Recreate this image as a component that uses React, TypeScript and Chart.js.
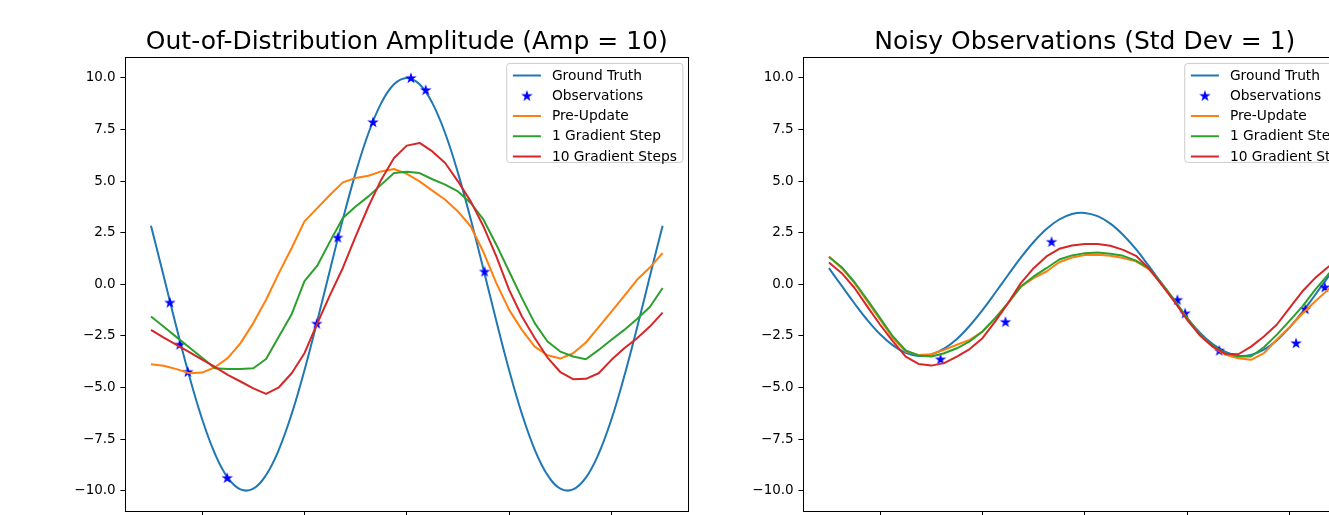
import React, { useEffect, useRef } from 'react';
import { Chart, registerables } from 'chart.js';

Chart.register(...registerables);

// ---------------- data ----------------
const X = [
  -5, -4.75, -4.5, -4.25, -4, -3.75, -3.5, -3.25, -3, -2.75, -2.5, -2.25, -2, -1.75, -1.5, -1.25, -1, -0.75, -0.5, -0.25,
  0, 0.25, 0.5, 0.75, 1, 1.25, 1.5, 1.75, 2, 2.25, 2.5, 2.75, 3, 3.25, 3.5, 3.75, 4, 4.25, 4.5, 4.75, 5,
];
const X_TICKS = [-4, -2, 0, 2, 4];
const Y_TICKS = [-10, -7.5, -5, -2.5, 0, 2.5, 5, 7.5, 10];
const SERIES_LABELS = ['Ground Truth', 'Observations', 'Pre-Update', '1 Gradient Step', '10 Gradient Steps'];
const TITLES = ['Out-of-Distribution Amplitude (Amp = 10)', 'Noisy Observations (Std Dev = 1)'];

// Left panel: out-of-distribution amplitude
const OOD_TRUTH = [
  2.84, 0.38, -2.11, -4.46, -6.54, -8.21, -9.37, -9.94, -9.9, -9.24, -8.01, -6.28, -4.16, -1.78, 0.71, 3.15, 5.4, 7.32, 8.78, 9.69,
  10.0, 9.69, 8.78, 7.32, 5.4, 3.15, 0.71, -1.78, -4.16, -6.28, -8.01, -9.24, -9.9, -9.94, -9.37, -8.21, -6.54, -4.46, -2.11, 0.38, 2.84,
];
const OOD_OBS_X = [-4.63, -4.44, -4.28, -3.51, -1.76, -1.35, -0.66, 0.08, 0.37, 1.52];
const OOD_OBS_Y = [-0.88, -2.92, -4.24, -9.38, -1.9, 2.27, 7.86, 10.0, 9.42, 0.62];
const OOD_PRE = [
  -3.87, -3.95, -4.11, -4.31, -4.28, -4.02, -3.58, -2.85, -1.88, -0.75, 0.54, 1.76, 3.05, 3.69, 4.34, 4.94, 5.15, 5.26, 5.47, 5.59,
  5.35, 4.99, 4.54, 4.1, 3.53, 2.8, 1.55, 0.06, -1.24, -2.21, -3.02, -3.44, -3.6, -3.34, -2.82, -2.08, -1.32, -0.56, 0.22, 0.81, 1.51,
];
const OOD_STEP1 = [
  -1.56, -2.06, -2.56, -3.06, -3.56, -4.07, -4.1, -4.1, -4.07, -3.62, -2.53, -1.45, 0.15, 0.9, 2.08, 3.21, 3.77, 4.26, 4.83, 5.39,
  5.45, 5.39, 5.09, 4.83, 4.5, 3.94, 3.13, 1.92, 0.62, -0.67, -1.88, -2.77, -3.26, -3.5, -3.63, -3.18, -2.69, -2.21, -1.68, -1.1, -0.18,
];
const OOD_STEP10 = [
  -2.21, -2.58, -2.93, -3.29, -3.65, -4.0, -4.39, -4.71, -5.04, -5.31, -4.99, -4.31, -3.34, -1.9, -0.51, 0.79, 2.32, 3.77, 5.07, 6.12,
  6.72, 6.85, 6.44, 5.88, 4.99, 4.02, 2.8, 1.35, -0.27, -1.56, -2.6, -3.55, -4.25, -4.6, -4.58, -4.31, -3.66, -3.1, -2.61, -2.05, -1.37,
];

// Right panel: noisy observations
const NOISY_TRUTH = [
  0.78, -0.08, -0.93, -1.73, -2.42, -2.96, -3.32, -3.47, -3.4, -3.12, -2.65, -2.01, -1.25, -0.41, 0.45, 1.29, 2.05, 2.68, 3.14, 3.41,
  3.46, 3.3, 2.94, 2.39, 1.7, 0.89, 0.04, -0.82, -1.63, -2.34, -2.9, -3.28, -3.46, -3.42, -3.17, -2.72, -2.1, -1.35, -0.52, 0.34, 1.17,
];
const NOISY_OBS_X = [-2.82, -1.55, -0.65, 1.81, 1.96, 2.63, 4.13, 4.31, 4.69];
const NOISY_OBS_Y = [-3.63, -1.82, 2.06, -0.75, -1.4, -3.21, -2.85, -1.2, -0.14];
const NOISY_PRE = [
  1.35, 0.78, 0.06, -0.83, -1.72, -2.61, -3.26, -3.42, -3.39, -3.18, -2.93, -2.69, -2.29, -1.64, -0.91, -0.11, 0.3, 0.62, 1.07, 1.3,
  1.42, 1.43, 1.38, 1.27, 1.11, 0.74, 0.02, -0.79, -1.64, -2.45, -3.02, -3.42, -3.58, -3.66, -3.34, -2.69, -2.08, -1.43, -0.83, -0.27, 0.35,
];
const NOISY_STEP1 = [
  1.32, 0.83, 0.1, -0.75, -1.64, -2.53, -3.21, -3.45, -3.5, -3.34, -3.1, -2.77, -2.29, -1.64, -0.91, -0.11, 0.38, 0.78, 1.2, 1.4,
  1.51, 1.54, 1.48, 1.38, 1.15, 0.78, 0.06, -0.75, -1.64, -2.45, -2.98, -3.34, -3.5, -3.5, -3.05, -2.45, -1.77, -1.08, -0.27, 0.46, 1.1,
];
const NOISY_STEP10 = [
  1.06, 0.54, -0.18, -1.08, -1.96, -2.77, -3.5, -3.86, -3.94, -3.82, -3.5, -3.14, -2.61, -1.8, -0.91, 0.06, 0.78, 1.35, 1.72, 1.88,
  1.95, 1.95, 1.87, 1.67, 1.38, 0.78, -0.02, -0.83, -1.72, -2.48, -3.02, -3.37, -3.39, -3.02, -2.53, -1.96, -1.15, -0.35, 0.3, 0.83, 1.3,
];

// ---------------- styles ----------------
const FONT = '"DejaVu Sans", sans-serif';
const C_TRUTH = '#1f77b4';
const C_OBS = '#0000ff';
const C_PRE = '#ff7f0e';
const C_STEP1 = '#2ca02c';
const C_STEP10 = '#d62728';

function makeStar(): HTMLCanvasElement {
  const c = document.createElement('canvas');
  c.width = 14;
  c.height = 14;
  const ctx = c.getContext('2d')!;
  const R = 4.3;
  const r = R * 0.381966;
  ctx.beginPath();
  for (let i = 0; i < 10; i++) {
    const rad = i % 2 === 0 ? R : r;
    const a = -Math.PI / 2 + (i * Math.PI) / 5;
    const px = 7 + rad * Math.cos(a);
    const py = 7.4 + rad * Math.sin(a);
    if (i === 0) ctx.moveTo(px, py);
    else ctx.lineTo(px, py);
  }
  ctx.closePath();
  ctx.fillStyle = C_OBS;
  ctx.fill();
  ctx.strokeStyle = C_OBS;
  ctx.lineWidth = 1.1;
  ctx.lineJoin = 'miter';
  ctx.stroke();
  return c;
}

const fmtY = (v: number) => (v < 0 ? '\u2212' : '') + Math.abs(v).toFixed(1);
const fmtX = (v: number) => (v < 0 ? '\u2212' : '') + String(Math.abs(v));

const framePlugin = {
  id: 'mplFrame',
  afterDatasetsDraw(chart: any) {
    const { ctx, chartArea: a } = chart;
    ctx.save();
    ctx.strokeStyle = '#000';
    ctx.lineWidth = 1;
    const l = Math.round(a.left) + 0.5;
    const r = Math.round(a.right) + 0.5;
    const t = Math.round(a.top) + 0.5;
    const b = Math.round(a.bottom) + 0.5;
    ctx.strokeRect(l, t, r - l, b - t);
    ctx.restore();
  },
};

function makeLegendPlugin(star: HTMLCanvasElement) {
  return {
    id: 'mplLegend',
    afterDraw(chart: any) {
      const { ctx, chartArea: a } = chart;
      const ds = chart.data.datasets;
      ctx.save();
      ctx.font = `13.8px ${FONT}`;
      const textW = Math.max(...ds.map((d: any) => ctx.measureText(d.label).width));
      const textOff = 45.7;
      const w = textOff + textW + 5.5;
      const h = 99;
      const x = a.right - 5.8 - w;
      const y = a.top + 5.6;
      ctx.beginPath();
      ctx.roundRect(x + 0.5, y + 0.5, w, h, 3);
      ctx.fillStyle = 'rgba(255,255,255,0.8)';
      ctx.fill();
      ctx.strokeStyle = '#cccccc';
      ctx.lineWidth = 1;
      ctx.stroke();
      ds.forEach((d: any, i: number) => {
        const cy = y + 12.6 + i * 20.25;
        if (d.showLine) {
          ctx.beginPath();
          ctx.strokeStyle = d.borderColor;
          ctx.lineWidth = 2;
          ctx.moveTo(x + 6.7, cy);
          ctx.lineTo(x + 34.7, cy);
          ctx.stroke();
        } else {
          ctx.drawImage(star, x + 20.7 - star.width / 2, cy - star.height / 2);
        }
        ctx.fillStyle = '#000';
        ctx.textBaseline = 'middle';
        ctx.textAlign = 'left';
        ctx.fillText(d.label, x + textOff, cy + 0.5);
      });
      ctx.restore();
    },
  };
}

type Panel = {
  title: string;
  truth: number[];
  obsX: number[];
  obsY: number[];
  pre: number[];
  step1: number[];
  step10: number[];
  left: number;
  yWidth: number;
  padRight: number;
};

const CANVAS_W = 700;
const CANVAS_H = 560;

function buildConfig(p: Panel, star: HTMLCanvasElement): any {
  const line = (label: string, data: number[], color: string, order: number, tension = 0) => ({
    label,
    data: X.map((x, i) => ({ x, y: data[i] })),
    showLine: true,
    borderColor: color,
    backgroundColor: color,
    borderWidth: 2,
    pointRadius: 0,
    pointHoverRadius: 0,
    borderJoinStyle: 'round',
    tension,
    order,
  });
  const datasets = [
    line(SERIES_LABELS[0], p.truth, C_TRUTH, 5, 0.4),
    {
      label: SERIES_LABELS[1],
      data: p.obsX.map((x, i) => ({ x, y: p.obsY[i] })),
      showLine: false,
      pointStyle: star,
      pointRadius: 5,
      pointHoverRadius: 5,
      borderColor: C_OBS,
      backgroundColor: C_OBS,
      order: 4,
    },
    line(SERIES_LABELS[2], p.pre, C_PRE, 3),
    line(SERIES_LABELS[3], p.step1, C_STEP1, 2),
    line(SERIES_LABELS[4], p.step10, C_STEP10, 1),
  ];
  const tickFont = { family: FONT, size: 13.5 };
  return {
    type: 'scatter',
    data: { datasets },
    options: {
      responsive: false,
      animation: false,
      events: [],
      layout: { padding: { left: 0, right: p.padRight, top: 0, bottom: 0 } },
      plugins: {
        legend: { display: false },
        tooltip: { enabled: false },
        title: {
          display: true,
          text: p.title,
          fullSize: false,
          color: '#000',
          font: { family: FONT, size: 25, weight: 'normal', lineHeight: 1.2 },
          padding: { top: 27, bottom: 0.3 },
        },
      },
      scales: {
        x: {
          type: 'linear',
          min: -5.5,
          max: 5.5,
          afterBuildTicks: (s: any) => {
            s.ticks = X_TICKS.map((v) => ({ value: v }));
          },
          afterFit: (s: any) => {
            s.height = 48.7;
          },
          grid: { drawOnChartArea: false, drawTicks: true, tickLength: 5, color: '#000', lineWidth: 1 },
          border: { display: false },
          ticks: {
            font: tickFont,
            color: '#000',
            padding: 4.7,
            autoSkip: false,
            maxRotation: 0,
            callback: (v: any) => fmtX(Number(v)),
          },
        },
        y: {
          type: 'linear',
          min: -11,
          max: 11,
          afterBuildTicks: (s: any) => {
            s.ticks = Y_TICKS.map((v) => ({ value: v }));
          },
          afterFit: (s: any) => {
            s.width = p.yWidth;
          },
          grid: { drawOnChartArea: false, drawTicks: true, tickLength: 5, color: '#000', lineWidth: 1 },
          border: { display: false },
          ticks: {
            font: tickFont,
            color: '#000',
            padding: 4.7,
            autoSkip: false,
            callback: (v: any) => fmtY(Number(v)),
          },
        },
      },
    },
    plugins: [framePlugin, makeLegendPlugin(star)],
  };
}

const PANELS: Panel[] = [
  {
    title: TITLES[0],
    truth: OOD_TRUTH,
    obsX: OOD_OBS_X,
    obsY: OOD_OBS_Y,
    pre: OOD_PRE,
    step1: OOD_STEP1,
    step10: OOD_STEP10,
    left: 0,
    yWidth: 125.4,
    padRight: 11.8,
  },
  {
    title: TITLES[1],
    truth: NOISY_TRUTH,
    obsX: NOISY_OBS_X,
    obsY: NOISY_OBS_Y,
    pre: NOISY_PRE,
    step1: NOISY_STEP1,
    step10: NOISY_STEP10,
    left: 690,
    yWidth: 113.4,
    padRight: 23.8,
  },
];

function PanelChart({ panel }: { panel: Panel }) {
  const ref = useRef<HTMLCanvasElement | null>(null);
  useEffect(() => {
    if (!ref.current) return;
    const star = makeStar();
    const chart = new Chart(ref.current, buildConfig(panel, star));
    return () => chart.destroy();
  }, [panel]);
  return (
    <canvas
      ref={ref}
      width={CANVAS_W}
      height={CANVAS_H}
      style={{ position: 'absolute', left: panel.left, top: 0, width: CANVAS_W, height: CANVAS_H }}
    />
  );
}

export default function App() {
  return (
    <div
      style={{
        position: 'absolute',
        left: 0,
        top: 0,
        width: 1329,
        height: 515,
        overflow: 'hidden',
        background: '#fff',
      }}
    >
      {PANELS.map((p, i) => (
        <PanelChart key={i} panel={p} />
      ))}
    </div>
  );
}
